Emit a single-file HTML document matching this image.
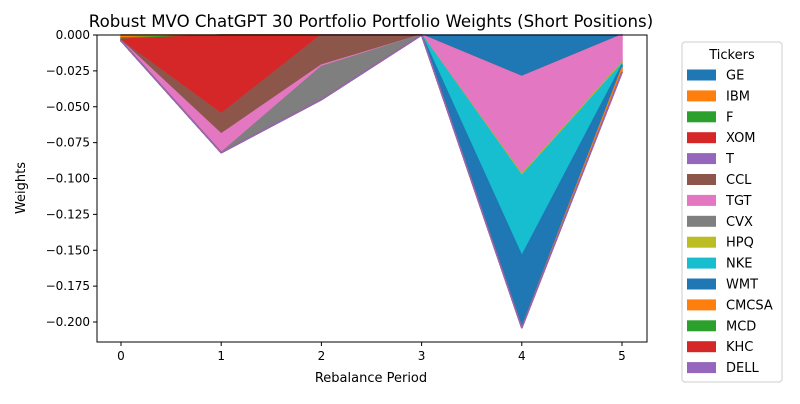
<!DOCTYPE html>
<html><head><meta charset="utf-8"><style>
body{margin:0;background:#fff;font-family:"DejaVu Sans","Liberation Sans",sans-serif}
</style></head><body>
<svg id="c" width="800" height="400" xmlns="http://www.w3.org/2000/svg" font-family="DejaVu Sans, Liberation Sans, sans-serif"></svg>
<script>
const periods=[0,1,2,3,4,5];
const tickers=["GE","IBM","F","XOM","T","CCL","TGT","CVX","HPQ","NKE","WMT","CMCSA","MCD","KHC","DELL"];
const colors=["#1f77b4","#ff7f0e","#2ca02c","#d62728","#9467bd","#8c564b","#e377c2","#7f7f7f","#bcbd22","#17becf","#1f77b4","#ff7f0e","#2ca02c","#d62728","#9467bd"];
const wGE=[0,0,0,0,-0.029,0];
const wIBM=[-0.002,0,0,0,0,0];
const wF=[-0.001,0,0,0,0,0];
const wXOM=[-0.001,-0.055,0,0,0,0];
const wT=[0,0,0,0,0,0];
const wCCL=[0,-0.014,-0.021,0,0,0];
const wTGT=[0,-0.013,-0.001,0,-0.068,-0.019];
const wCVX=[0,0,-0.023,0,0,0];
const wHPQ=[0,0,0,0,-0.001,-0.001];
const wNKE=[0,0,0,0,-0.056,-0.001];
const wWMT=[0,0,0,0,-0.050,-0.002];
const wCMCSA=[0,0,0,0,0,-0.003];
const wMCD=[0,0,0,0,0,0];
const wKHC=[0,0,0,0,0,0];
const wDELL=[0,0,0,0,0,0];
const series=[wGE,wIBM,wF,wXOM,wT,wCCL,wTGT,wCVX,wHPQ,wNKE,wWMT,wCMCSA,wMCD,wKHC,wDELL];
const yTicks=[0,-0.025,-0.05,-0.075,-0.1,-0.125,-0.15,-0.175,-0.2];
const L=97,R=647,T=35,B=342;
const xs=p=>121+p*100.2;
const ys=v=>35-v*1435;
const svg=document.getElementById('c');
const NS="http://www.w3.org/2000/svg";
function mk(t,a,txt){const e=document.createElementNS(NS,t);for(const k in a)e.setAttribute(k,a[k]);if(txt!==undefined)e.textContent=txt;svg.appendChild(e);return e;}
let cum=periods.map(()=>0);
series.forEach((s,i)=>{
  const top=cum.slice();const bot=cum.map((c,j)=>c+s[j]);
  let pts=periods.map((p,j)=>xs(p)+","+ys(top[j]));
  pts=pts.concat(periods.slice().reverse().map((p,jj)=>{const j=periods.length-1-jj;return xs(p)+","+ys(bot[j]);}));
  const e=mk('polygon',{points:pts.join(' '),fill:colors[i],stroke:colors[i],'stroke-width':1.5,'stroke-linejoin':'round'});
  
  
  cum=bot;
});
const fr=mk('rect',{x:L,y:T,width:R-L,height:B-T,fill:'none',stroke:'#000','stroke-width':1});

periods.forEach(p=>{mk('line',{x1:xs(p),x2:xs(p),y1:B,y2:B+4,stroke:'#000'});
 const t=mk('text',{x:xs(p),y:B+18,'text-anchor':'middle','font-size':12},p);
 });
yTicks.forEach(v=>{mk('line',{x1:L-4,x2:L,y1:ys(v),y2:ys(v),stroke:'#000'});
 const s=(v<0?'\u2212':'')+Math.abs(v).toFixed(3);
 const t=mk('text',{x:L-7,y:ys(v)+4,'text-anchor':'end','font-size':12},s);
 });
let t=mk('text',{x:371,y:27,'text-anchor':'middle','font-size':16.6},'Robust MVO ChatGPT 30 Portfolio Portfolio Weights (Short Positions)');

t=mk('text',{x:371,y:382,'text-anchor':'middle','font-size':13},'Rebalance Period');

t=mk('text',{x:25,y:188,'text-anchor':'middle','font-size':13,transform:'rotate(-90 25 188)'},'Weights');

const lg=mk('rect',{x:682,y:42,width:100,height:340,rx:3,fill:'#fff',stroke:'#ccc'});

t=mk('text',{x:732,y:59,'text-anchor':'middle','font-size':13},'Tickers');

tickers.forEach((n,i)=>{const y=69.5+i*20.9;
 const r=mk('rect',{x:687,y:y,width:29,height:11,fill:colors[i]});
 
 const tx=mk('text',{x:726,y:y+10,'font-size':13},n);
 });
</script>
</body></html>
